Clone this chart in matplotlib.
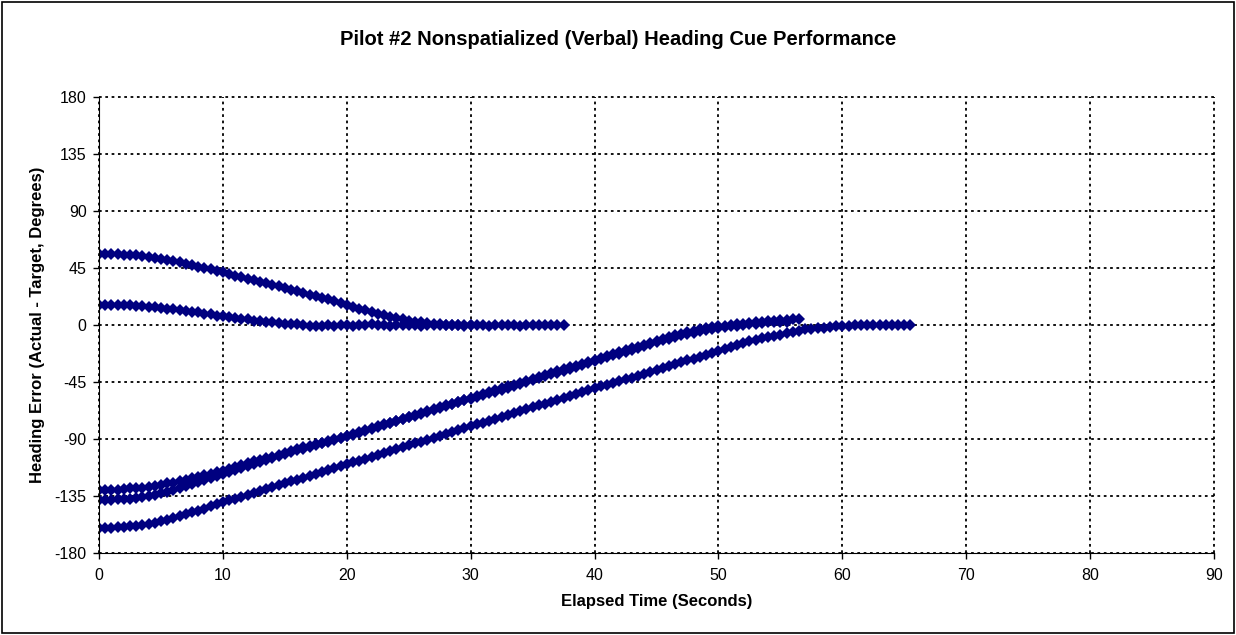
import numpy as np
import matplotlib
matplotlib.use('Agg')
import matplotlib.pyplot as plt
from matplotlib.patches import Rectangle

plt.rcParams['font.family'] = ['Liberation Sans', 'DejaVu Sans']
plt.rcParams['axes.unicode_minus'] = False

# sample interval (seconds) between logged points
dt = 0.5

# heading error per trial, one value every dt seconds from t=0
trial_a = [56, 56, 56, 56, 55.5, 55.5, 55, 54.5, 54, 53,
           52.5, 51.5, 50.5, 49.5, 48.5, 47, 46, 45, 44, 42.5,
           41.5, 40.5, 39, 38, 36.5, 35.5, 34, 33, 31.5, 30.5,
           29, 28, 26.5, 25.5, 24, 23, 21.5, 20.5, 19, 17.5,
           16, 14.5, 13, 11.5, 10.5, 9, 8, 6.5, 5.5, 4.5,
           3.5, 2.5, 2, 1.5, 1, 0.5, 0.3, 0, 0, -0.5,
           0, 0, 0, -0.5, 0, 0, 0, 0, -0.5, 0,
           0, 0, 0, 0, 0, 0]

trial_b = [16, 16, 16, 16, 15.5, 15.5, 15, 15, 14.5, 14,
           13.5, 13, 12.5, 12, 11, 10.5, 10, 9, 8.5, 7.5,
           7, 6.5, 5.5, 5, 4.5, 3.5, 3, 2.5, 2, 1.5,
           1, 0.5, 0.5, 0, -0.5, -1, -0.5, 0, -0.5, 0,
           0, -0.5, 0, 0, 0.5, 0, 0, -0.5, 0, 0,
           0, 0, -0.5, 0, 0, 0, 0, 0, 0, 0,
           0]

trial_c = [-130, -130, -130, -130, -129.5, -129, -129, -128.5, -128, -127,
           -126, -125, -124.5, -123.5, -122, -121, -120, -118.5, -117.5, -116,
           -115, -113.5, -112, -110.5, -109, -107.5, -106.5, -105, -104, -102.5,
           -101, -99.5, -98, -96.5, -95.5, -94, -93, -91.5, -90, -89,
           -87.5, -86, -84.5, -83, -81.5, -80, -78.5, -77, -75.5, -74,
           -72.5, -71, -69.5, -68, -66.5, -65, -63.5, -62, -60.5, -59,
           -57.5, -56, -54.5, -53, -51.5, -50, -48.5, -47, -45.5, -44,
           -42.5, -41, -39.5, -38, -36.5, -35, -33.5, -32, -30.5, -29,
           -27.5, -26, -24.5, -23, -21.5, -20, -18.5, -17, -15.5, -14,
           -12.5, -11, -9.5, -8, -7, -5.5, -4.5, -3.5, -2.5, -1.5,
           -1, -0.5, 0, 0.5, 1, 1.5, 2, 2.5, 3, 3.5,
           4, 4, 4.5, 4.5]

trial_d = [-138, -138, -138, -137.5, -137.5, -137, -136.5, -136, -135, -134,
           -133, -131.5, -130, -128.5, -127, -125.5, -124, -122.5, -121, -119,
           -117.5, -116, -114.5, -113, -111, -109.5, -108, -106.5, -105, -103.5,
           -102, -100.5, -99, -97.5, -96, -94.5, -93.5, -92, -90.5, -89,
           -88, -86.5, -85, -83.5, -82, -80.5, -79, -77.5, -76, -74.5,
           -73, -71.5, -70, -68.5, -67, -65.5, -64, -62.5, -61, -59.5,
           -58.5, -57, -55.5, -54, -52.5, -51, -49.5, -48, -46.5, -45,
           -43.5, -42, -40.5, -39, -37.5, -36, -34.5, -33, -31.5, -30,
           -28.5, -27, -25.5, -24, -22.5, -21, -19.5, -18, -16.5, -15,
           -13.5, -12, -11, -9.5, -8, -7, -6, -5, -4, -3,
           -2, -1.5, -1, -0.5, 0, 0.5, 1, 1.5, 2, 2,
           2.5, 2.5]

trial_e = [-160, -160, -160, -159.5, -159.5, -159, -158.5, -158, -157, -156,
           -155, -154, -152.5, -151, -149.5, -148, -146.5, -145, -143, -141.5,
           -140, -138.5, -137, -135.5, -134, -132.5, -131, -129.5, -128, -126.5,
           -125, -123.5, -122, -120.5, -119, -117.5, -116, -114.5, -113, -111.5,
           -110, -108.5, -107, -105.5, -104, -102.5, -101, -99.5, -98, -96.5,
           -95, -93.5, -92, -90.5, -89, -87.5, -86, -84.5, -83, -81.5,
           -80, -78.5, -77, -75.5, -74, -72.5, -71, -69.5, -68, -66.5,
           -65, -63.5, -62, -60.5, -59, -57.5, -56, -54.5, -53, -51.5,
           -50, -48.5, -47, -45.5, -44.5, -43, -41.5, -40, -38.5, -37,
           -35.5, -34, -32.5, -31, -29.5, -28, -26.5, -25, -23.5, -22,
           -20.5, -19, -17.5, -16, -14.5, -13, -12, -10.5, -9.5, -8.5,
           -7.5, -6.5, -5.5, -4.5, -3.5, -3, -2.5, -2, -1.5, -1,
           -0.5, -0.5, 0, 0, 0, 0, 0, 0, 0, 0,
           0, 0]

trials = [trial_a, trial_b, trial_c, trial_d, trial_e]

x_ticks = [0, 10, 20, 30, 40, 50, 60, 70, 80, 90]
y_ticks = [-180, -135, -90, -45, 0, 45, 90, 135, 180]

fig = plt.figure(figsize=(12.36, 6.35), dpi=100)
ax = fig.add_axes([0.0801, 0.1291, 0.9021, 0.7181])

for tr in trials:
    t = np.arange(len(tr)) * dt
    ax.plot(t, tr, ls='none', marker='D', markersize=6.3,
            color='#000080', markeredgewidth=0)

ax.set_xlim(0, 90)
ax.set_ylim(-180, 180)
ax.set_xticks(x_ticks)
ax.set_yticks(y_ticks)
ax.tick_params(direction='out', length=4, width=1, labelsize=11.5, colors='black')
ax.tick_params(axis='x', pad=7)
ax.tick_params(axis='y', pad=5)

ax.grid(True, color='black', linestyle=(0, (1.5, 2)), linewidth=1.3)
ax.set_axisbelow(True)
for g in ax.get_xgridlines() + ax.get_ygridlines():
    g.set_clip_on(False)

ax.spines['top'].set_visible(False)
ax.spines['right'].set_visible(False)
ax.spines['left'].set_color('black')
ax.spines['bottom'].set_color('black')

ax.set_xlabel('Elapsed Time (Seconds)', fontsize=12, fontweight='bold', labelpad=8)
ax.set_ylabel('Heading Error (Actual - Target, Degrees)', fontsize=12,
              fontweight='bold', labelpad=7)
fig.text(0.5, 0.938, 'Pilot #2 Nonspatialized (Verbal) Heading Cue Performance',
         ha='center', va='center', fontsize=14.5, fontweight='bold')

fig.patches.append(Rectangle((0.002, 0.003), 0.996, 0.994, transform=fig.transFigure,
                             fill=False, edgecolor='black', linewidth=1.2))

plt.savefig('out.png', dpi=100)
